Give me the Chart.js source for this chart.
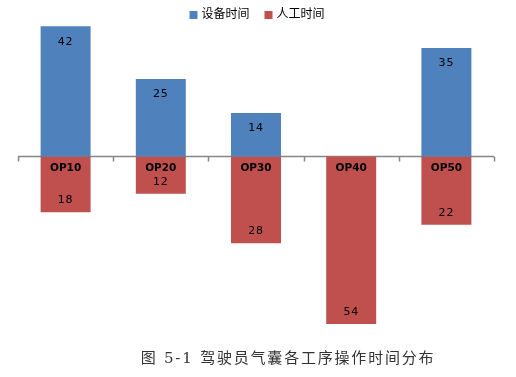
<!DOCTYPE html>
<html>
<head>
<meta charset="utf-8">
<script src="https://cdn.jsdelivr.net/npm/chart.js@4/dist/chart.umd.min.js"></script>
<style>
  html, body { margin: 0; padding: 0; background: #fff; }
  #wrap { width: 516px; height: 377px; }
</style>
</head>
<body>
<div id="wrap"><canvas id="timeChart" width="516" height="377"></canvas></div>
<script>
// data
var categories = ["OP10", "OP20", "OP30", "OP40", "OP50"];
var machineTime = [42, 25, 14, 0, 35];   // 设备时间
var manualTime = [18, 12, 28, 54, 22];   // 人工时间 (drawn below the axis)
var seriesNames = ["设备时间", "人工时间"];
var captionText = "图 5-1 驾驶员气囊各工序操作时间分布";

var BLUE = "#4F81BD";
var RED = "#C0504D";

// axis line, ticks, value labels, legend and caption
var decorPlugin = {
  id: 'decor',
  beforeDatasetsDraw: function (chart) {
    var ctx = chart.ctx, x = chart.scales.x, y = chart.scales.y;
    var area = chart.chartArea;
    var y0 = y.getPixelForValue(0);
    var catW = x.getPixelForValue(1) - x.getPixelForValue(0);
    ctx.save();
    ctx.strokeStyle = "#868686";
    ctx.lineWidth = 1.5;
    ctx.beginPath();
    ctx.moveTo(area.left, y0);
    ctx.lineTo(area.right, y0);
    for (var i = 0; i <= categories.length; i++) {
      var tx = Math.round(x.getPixelForValue(0) - catW / 2 + i * catW) + 0.5;
      ctx.moveTo(tx, y0);
      ctx.lineTo(tx, y0 + 5);
    }
    ctx.stroke();
    ctx.restore();
  },
  afterDatasetsDraw: function (chart) {
    var ctx = chart.ctx, x = chart.scales.x, y = chart.scales.y;
    var y0 = y.getPixelForValue(0);
    ctx.save();
    ctx.fillStyle = "#000";
    ctx.textAlign = "center";
    ctx.textBaseline = "middle";
    categories.forEach(function (c, i) {
      var cx = x.getPixelForValue(i);
      ctx.font = "bold 10.5px 'DejaVu Sans'";
      ctx.fillText(c, cx, y0 + 11.5);
      ctx.font = "11px 'DejaVu Sans'";
      ctx.letterSpacing = "0.8px";
      if (machineTime[i] > 0) {
        ctx.fillText(String(machineTime[i]), cx, y.getPixelForValue(machineTime[i]) + 15.5);
      }
      if (manualTime[i] > 0) {
        ctx.fillText(String(manualTime[i]), cx, y.getPixelForValue(-manualTime[i]) - 12);
      }
      ctx.letterSpacing = "0px";
    });

    // legend
    ctx.font = "12px 'Noto Sans CJK SC'";
    ctx.textAlign = "left";
    var colors = [BLUE, RED];
    var widths = seriesNames.map(function (s) { return ctx.measureText(s).width; });
    var total = 0;
    widths.forEach(function (w, i) { total += 8 + 4 + w + (i ? 15 : 0); });
    var lx = 257 - total / 2;
    seriesNames.forEach(function (s, i) {
      ctx.fillStyle = colors[i];
      ctx.fillRect(lx, 11, 8, 8);
      ctx.fillStyle = "#000";
      ctx.fillText(s, lx + 12, 13);
      lx += 8 + 4 + widths[i] + 15;
    });

    // caption under the chart
    ctx.font = "15px 'DejaVu Serif', 'Noto Sans CJK SC'";
    ctx.letterSpacing = "1.8px";
    ctx.textAlign = "center";
    ctx.fillStyle = "#333";
    ctx.fillText(captionText, 288, 359);
    ctx.restore();
  }
};

var ctx = document.getElementById("timeChart").getContext('2d');
var chart = new Chart(ctx, {
  type: 'bar',
  data: {
    labels: categories,
    datasets: [{
      label: seriesNames[0],
      data: machineTime,
      backgroundColor: BLUE,
      borderWidth: 0
    }, {
      label: seriesNames[1],
      data: manualTime.map(function (v) { return -v; }),
      backgroundColor: RED,
      borderWidth: 0
    }]
  },
  options: {
    responsive: false,
    animation: false,
    layout: { padding: { left: 18, right: 22, top: 22, bottom: 37 } },
    datasets: {
      bar: { barPercentage: 0.525, categoryPercentage: 1 }
    },
    scales: {
      x: { stacked: true, display: false },
      y: { stacked: true, display: false, min: -59.2, max: 43.4 }
    },
    plugins: {
      legend: { display: false },
      title: { display: false },
      tooltip: { enabled: false }
    }
  },
  plugins: [decorPlugin]
});
</script>
</body>
</html>
